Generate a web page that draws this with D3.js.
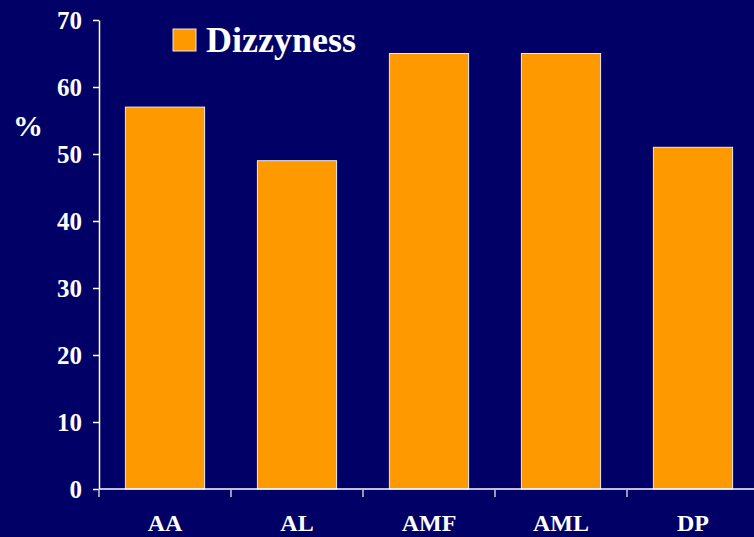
<!DOCTYPE html>
<html>
<head>
<meta charset="utf-8">
<script src="https://cdn.jsdelivr.net/npm/d3@7"></script>
<style>
  html, body { margin: 0; padding: 0; background: #000066; overflow: hidden; }
  svg { display: block; }
  text { font-family: "Liberation Serif", "Times New Roman", serif; font-weight: bold; fill: #ffffff; }
</style>
</head>
<body>
<svg id="chart" width="754" height="537"></svg>
<script>
// Share of patients reporting dizziness, by treatment group
const categories = ["AA", "AL", "AMF", "AML", "DP"];
const dizzyness = [57, 49, 65, 65, 51];
const yTicks = [0, 10, 20, 30, 40, 50, 60, 70];
const seriesName = "Dizzyness";

const W = 754, H = 537;
const margin = { left: 99, top: 20, right: -5, bottom: 48 };
const svg = d3.select("#chart");

const x = d3.scaleBand()
  .domain(categories)
  .range([margin.left, W - margin.right])
  .paddingInner(0.4)
  .paddingOuter(0.2);

const y = d3.scaleLinear()
  .domain([0, 70])
  .range([H - margin.bottom, margin.top]);

// bars
svg.append("g")
  .selectAll("rect")
  .data(categories)
  .join("rect")
  .attr("x", d => x(d))
  .attr("y", (d, i) => y(dizzyness[i]))
  .attr("width", x.bandwidth())
  .attr("height", (d, i) => y(0) - y(dizzyness[i]))
  .attr("fill", "#ff9900")
  .attr("stroke", "#e8e8f0")
  .attr("stroke-width", 1);

// y axis
const yAxis = svg.append("g")
  .attr("transform", `translate(${margin.left},0)`)
  .call(d3.axisLeft(y).tickValues(yTicks).tickSize(6).tickPadding(11).tickSizeOuter(0));
yAxis.select(".domain").attr("stroke", "#ffffff").attr("stroke-width", 1.5);
yAxis.selectAll(".tick line").attr("stroke", "#ffffff").attr("stroke-width", 1.5);
yAxis.selectAll(".tick text").attr("font-size", 25).attr("fill", "#ffffff")
  .attr("font-family", "Liberation Serif, serif").attr("font-weight", "bold");

// x axis: ticks sit at the band boundaries
const bandEdges = [margin.left].concat(categories.map(c => x(c) + x.bandwidth() + x.step() * x.paddingInner() / 2));
const xAxisG = svg.append("g").attr("transform", `translate(0,${y(0)})`);
xAxisG.append("line")
  .attr("x1", margin.left).attr("x2", W + 10)
  .attr("stroke", "#ffffff").attr("stroke-width", 1.5);
xAxisG.selectAll("line.tk")
  .data(bandEdges.slice(0, categories.length))
  .join("line")
  .attr("class", "tk")
  .attr("x1", d => d).attr("x2", d => d)
  .attr("y1", 0).attr("y2", 8)
  .attr("stroke", "#c8c8d8").attr("stroke-width", 1.5);
xAxisG.selectAll("text")
  .data(categories)
  .join("text")
  .attr("x", d => x(d) + x.bandwidth() / 2)
  .attr("y", 42)
  .attr("text-anchor", "middle")
  .attr("font-size", 24)
  .text(d => d);

// y axis title
svg.append("text")
  .attr("x", 28).attr("y", 136)
  .attr("text-anchor", "middle")
  .attr("font-size", 30)
  .text("%");

// legend
const legend = svg.append("g").attr("transform", "translate(173,29)");
legend.append("rect")
  .attr("width", 23).attr("height", 22)
  .attr("fill", "#ff9900").attr("stroke", "#e8e8f0").attr("stroke-width", 1);
legend.append("text")
  .attr("x", 33).attr("y", 23)
  .attr("font-size", 36)
  .text(seriesName);
</script>
</body>
</html>
